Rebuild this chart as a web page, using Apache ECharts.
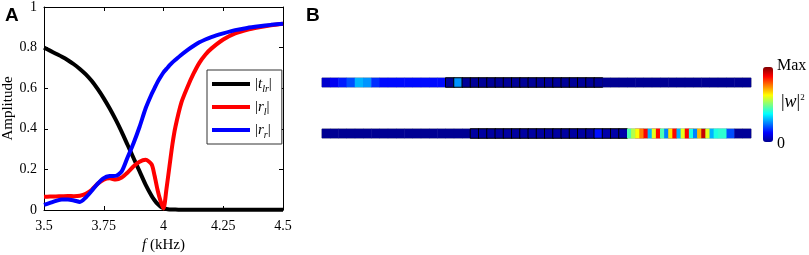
<!DOCTYPE html>
<html><head><meta charset="utf-8">
<script src="https://cdn.jsdelivr.net/npm/echarts@6/dist/echarts.min.js"></script>
<style>html,body{margin:0;padding:0;background:#fff}#c{width:809px;height:255px}</style>
</head><body><div id="c"></div>
<script>
// ---- Panel A data ----
const freq = [3.5,3.525,3.55,3.575,3.6,3.625,3.65,3.675,3.7,3.725,3.75,3.775,3.8,3.825,3.85,3.875,3.9,3.925,3.95,3.9625,3.975,3.9875,4.0,4.0125,4.025,4.0375,4.05,4.075,4.1,4.125,4.15,4.175,4.2,4.25,4.3,4.35,4.4,4.45,4.5];
const tLR = [.800,.785,.770,.755,.738,.718,.695,.668,.635,.595,.550,.500,.445,.385,.320,.255,.190,.125,.070,.048,.030,.017,.009,.005,.003,.002,.002,.001,.001,.001,.001,.001,.001,.001,.001,.001,.001,.001,.001];
const rL  = [.065,.066,.067,.068,.069,.068,.070,.080,.100,.130,.150,.156,.150,.160,.185,.215,.238,.247,.225,.170,.100,.045,.008,.105,.215,.325,.410,.530,.605,.670,.725,.765,.795,.840,.870,.888,.900,.910,.918];
const rR  = [.025,.035,.045,.052,.052,.047,.040,.062,.095,.130,.157,.167,.168,.190,.260,.330,.410,.500,.570,.600,.630,.655,.678,.695,.712,.727,.740,.765,.788,.808,.826,.840,.852,.870,.886,.897,.905,.912,.918];
const seriesNames = ['tlr','rl','rr'];
const legendLabels = {tlr:'|{i|t}{s|lr}|', rl:'|{i|r}{s|l}|', rr:'|{i|r}{s|r}|'};

// ---- Panel B data (|w|^2 normalised, 0..1) ----
const topBar = [.07,.11,.15,.20,.30,.27,.17,
  .135,.135,.135,.135,.135,.135,.135,.135,
  .01,.27,
  .01,.01,.01,.01,.01,.01,.01,.01,.01,.01,.01,.01,.01,.01,.01,.01,.01,
  .005,.005,.005,.005,.005,.005,.005,.005,.005,.005,.005,.005,.005,.005,.005,.005,.005,.005];
const topCells = [15, 33];
const bottomBar = [.005,.005,.005,.005,.005,.005,.005,.005,.005,.005,.005,.005,.005,.005,.005,.005,.005,.005,
  .02,.02,.02,.02,.02,.02,.02,.02,.02,.02,.02,.02,.02,.02,.02,
  .14,.03,.03,.03,
  .55,.85,.50,.85,.50,.85,.50,.85,.60,.40,.42,.38,
  .20,.01,.01];
const bottomCells = [18, 36];
const bottomFineStart = 74;
const bottomFine = [.45,.55,.62,.75,.88,.30,.60,.87,.45,.25,.65,.87,.30,.60,.88,.40,.25,.70,.93,.60,.30,.40,.42,.42];
const colorbarLabels = ['Max', '0'];
const jet = ['#00008F','#0000FF','#0080FF','#00FFFF','#80FF80','#FFFF00','#FF8000','#FF0000','#800000'];

const coarseCols = Array.from({length: topBar.length}, (_, i) => String(i));
const fineCols = Array.from({length: topBar.length * 2}, (_, i) => String(i));

function barData(vals, cells) {
  return vals.map((v, i) => {
    const item = {value: [i, 0, v]};
    if (i >= cells[0] && i <= cells[1]) item.itemStyle = {borderColor: '#000', borderWidth: 1};
    return item;
  });
}
const serif = '"Liberation Serif","Times New Roman",serif';
const black = '#000';

function valAxis(extra) {
  return Object.assign({
    type: 'value', axisLine: {show: true, onZero: false, lineStyle: {color: black, width: 1}},
    axisTick: {show: true, inside: true, length: 4, lineStyle: {color: black, width: 1}},
    splitLine: {show: false},
    axisLabel: {color: black, fontFamily: serif, fontSize: 14}
  }, extra);
}
function hiddenCat(gridIndex, data, position) {
  return {type: 'category', gridIndex, data, position, show: false, boundaryGap: true};
}

const chart = echarts.init(document.getElementById('c'), null, {renderer: 'canvas'});
chart.setOption({
  animation: false,
  backgroundColor: '#fff',
  grid: [
    {left: 44, top: 7, width: 239, height: 203, outerBoundsMode: 'none', containLabel: false},
    {left: 322, top: 78, width: 429, height: 9, show: true, borderColor: '#999', borderWidth: 1, outerBoundsMode: 'none'},
    {left: 322, top: 129, width: 429, height: 9, show: true, borderColor: '#999', borderWidth: 1, outerBoundsMode: 'none'}
  ],
  xAxis: [
    valAxis({gridIndex: 0, min: 3.5, max: 4.5, interval: 0.25, position: 'bottom',
      axisLabel: {color: black, fontFamily: serif, fontSize: 14, margin: 9},
      name: '{i|f} (kHz)', nameLocation: 'middle', nameGap: 27,
      nameTextStyle: {color: black, fontFamily: serif, fontSize: 15,
        rich: {i: {fontStyle: 'italic', fontFamily: serif, fontSize: 15, color: black}}}}),
    valAxis({gridIndex: 0, min: 3.5, max: 4.5, interval: 0.25, position: 'top', axisLabel: {show: false}}),
    hiddenCat(1, coarseCols, 'bottom'),
    hiddenCat(2, coarseCols, 'bottom'),
    hiddenCat(2, fineCols, 'top')
  ],
  yAxis: [
    valAxis({gridIndex: 0, min: 0, max: 1, interval: 0.2, position: 'left',
      axisLabel: {color: black, fontFamily: serif, fontSize: 14, margin: 7},
      name: 'Amplitude', nameLocation: 'middle', nameGap: 27,
      nameTextStyle: {color: black, fontFamily: serif, fontSize: 15}}),
    valAxis({gridIndex: 0, min: 0, max: 1, interval: 0.2, position: 'right', axisLabel: {show: false}}),
    {type: 'category', gridIndex: 1, data: ['w'], show: false},
    {type: 'category', gridIndex: 2, data: ['w'], show: false}
  ],
  legend: {
    data: seriesNames, orient: 'vertical', left: 207, top: 70,
    padding: [4, 10, 4, 5], itemGap: 3, itemWidth: 38, itemHeight: 4, icon: 'rect',
    borderColor: '#333', borderWidth: 1, backgroundColor: '#fff', borderRadius: 0,
    selectedMode: false,
    formatter: n => legendLabels[n],
    textStyle: {color: black, fontFamily: serif, fontSize: 15, lineHeight: 20,
      rich: {
        i: {fontStyle: 'italic', fontFamily: serif, fontSize: 15, lineHeight: 20, color: black},
        s: {fontStyle: 'italic', fontFamily: serif, fontSize: 10, lineHeight: 10, verticalAlign: 'bottom', color: black}
      }}
  },
  visualMap: {
    type: 'continuous', min: 0, max: 1, seriesIndex: [3, 4, 5], calculable: false,
    orient: 'vertical', left: 763, top: 67, itemWidth: 10, itemHeight: 75, padding: 0,
    text: null, inRange: {color: jet}, hoverLink: false
  },
  graphic: [
    {type: 'text', left: 5, top: 6, style: {text: 'A', font: 'bold 19px "Liberation Sans", Arial, sans-serif', fill: black}},
    {type: 'text', left: 306, top: 6, style: {text: 'B', font: 'bold 19px "Liberation Sans", Arial, sans-serif', fill: black}},
    {type: 'text', left: 777, top: 58, style: {text: colorbarLabels[0], font: '16px ' + serif, fill: black}},
    {type: 'text', left: 777, top: 136, style: {text: colorbarLabels[1], font: '16px ' + serif, fill: black}},
    {type: 'text', left: 781, top: 93, style: {text: '|{i|w}|{s|2}', font: '18px ' + serif, fill: black,
      rich: {i: {font: 'italic 18px ' + serif, fill: black}, s: {font: '9px ' + serif, fill: black, verticalAlign: 'top'}}}}
  ],
  series: [
    {name: 'tlr', type: 'line', xAxisIndex: 0, yAxisIndex: 0, data: freq.map((f, i) => [f, tLR[i]]),
      showSymbol: false, smooth: 0.25, lineStyle: {color: '#000', width: 4}, itemStyle: {color: '#000'}, clip: true, silent: true},
    {name: 'rl', type: 'line', xAxisIndex: 0, yAxisIndex: 0, data: freq.map((f, i) => [f, rL[i]]),
      showSymbol: false, smooth: 0.25, lineStyle: {color: '#FF0000', width: 4}, itemStyle: {color: '#FF0000'}, clip: true, silent: true},
    {name: 'rr', type: 'line', xAxisIndex: 0, yAxisIndex: 0, data: freq.map((f, i) => [f, rR[i]]),
      showSymbol: false, smooth: 0.25, lineStyle: {color: '#0000FF', width: 4}, itemStyle: {color: '#0000FF'}, clip: true, silent: true},
    {type: 'heatmap', xAxisIndex: 2, yAxisIndex: 2, data: barData(topBar, topCells), silent: true, emphasis: {disabled: true}},
    {type: 'heatmap', xAxisIndex: 3, yAxisIndex: 3, data: barData(bottomBar, bottomCells), silent: true, emphasis: {disabled: true}},
    {type: 'heatmap', xAxisIndex: 4, yAxisIndex: 3, z: 3,
      data: bottomFine.map((v, k) => [bottomFineStart + k, 0, v]), silent: true, emphasis: {disabled: true}}
  ]
});
</script>
</body></html>
